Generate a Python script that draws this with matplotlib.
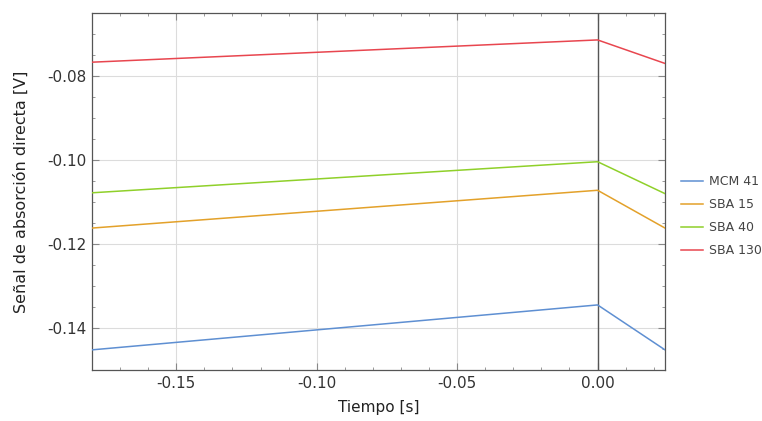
import matplotlib
matplotlib.use("Agg")
import matplotlib.pyplot as plt
from matplotlib.ticker import MultipleLocator

t = [-0.18, 0.0, 0.024]
series_names = ["MCM 41", "SBA 15", "SBA 40", "SBA 130"]
mcm41 = [-0.1452, -0.1345, -0.1452]
sba15 = [-0.1162, -0.1072, -0.1162]
sba40 = [-0.1078, -0.1004, -0.1080]
sba130 = [-0.0767, -0.0714, -0.0770]
colors = ["#5e8fd2", "#e3a12a", "#8fd02a", "#e8464f"]
xticks = [-0.15, -0.10, -0.05, 0.00]
yticks = [-0.14, -0.12, -0.10, -0.08]

plt.rcParams['font.family'] = ['DejaVu Sans']

fig = plt.figure(figsize=(7.62, 4.21), dpi=100)
ax = fig.add_axes([0.1207, 0.1211, 0.8727 - 0.1207, 0.969 - 0.1211])

for name, vals, c in zip(series_names, [mcm41, sba15, sba40, sba130], colors):
    ax.plot(t, vals, color=c, lw=1.1, label=name, zorder=3)

ax.set_xlim(-0.18, 0.024)
ax.set_ylim(-0.150, -0.065)
ax.xaxis.set_minor_locator(MultipleLocator(0.01))
ax.yaxis.set_minor_locator(MultipleLocator(0.005))
ax.set_xticks(xticks)
ax.set_xticklabels(['%.2f' % v for v in xticks])
ax.set_yticks(yticks)
ax.set_yticklabels(['%.2f' % v for v in yticks])

ax.grid(True, which='major', color='#dcdcdc', lw=0.8, zorder=1)
ax.axvline(0, color='#555555', lw=1.0, zorder=2.5)
ax.tick_params(which='both', direction='in', top=True, right=True, color='#888888')
ax.tick_params(which='major', length=5, width=0.8, labelsize=11, labelcolor='#333333', pad=4)
ax.tick_params(which='minor', length=2.5, width=0.6)
for s in ax.spines.values():
    s.set_color('#555555')
    s.set_linewidth(0.9)

ax.set_xlabel('Tiempo [s]', fontsize=11, color='#222222', labelpad=7)
ax.set_ylabel('Señal de absorción directa [V]', fontsize=11.5, color='#222222', labelpad=13)

leg = ax.legend(loc='center left', bbox_to_anchor=(1.02, 0.431), frameon=False,
                borderaxespad=0, fontsize=9, handlelength=1.7, handletextpad=0.5,
                labelspacing=0.8)
for txt in leg.get_texts():
    txt.set_color('#444444')

fig.savefig('out.png', dpi=100)
